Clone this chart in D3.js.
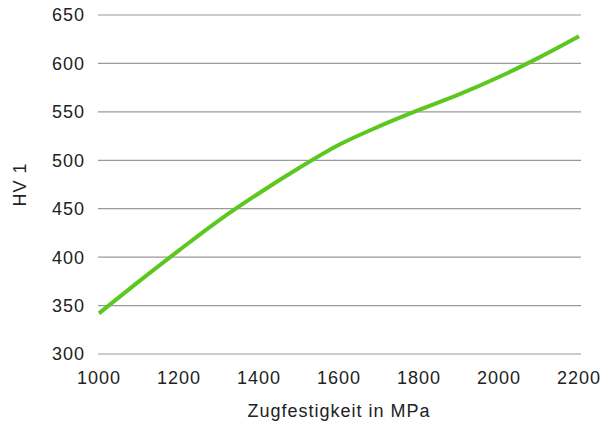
<!DOCTYPE html>
<html>
<head>
<meta charset="utf-8">
<script src="https://cdn.jsdelivr.net/npm/d3@7"></script>
<style>
  body { margin: 0; background: #fff; }
  text { font-family: "Liberation Sans", Arial, sans-serif; fill: #222; }
</style>
</head>
<body>
<script>
// Zugfestigkeit (MPa) und Härte HV 1
var zugfestigkeit = [1000, 1100, 1200, 1300, 1400, 1500, 1600, 1700, 1800, 1900, 2000, 2100, 2200];
var haerte = [342, 375, 407, 438, 466, 492, 516, 535, 552, 568, 586, 606, 628];

var xTicks = [1000, 1200, 1400, 1600, 1800, 2000, 2200];
var yTicks = [300, 350, 400, 450, 500, 550, 600, 650];

var vis = {
  width: 607,
  height: 428,
  links: 99,
  rechts: 579,
  oben: 15,
  unten: 354,
  gitterStart: 98,
  gitterEnde: 581,
  gruen: "#5cc71f"
};

var svg = d3.select("body").append("svg")
  .attr("width", vis.width)
  .attr("height", vis.height);

var x = d3.scaleLinear().domain([1000, 2200]).range([vis.links, vis.rechts]);
var y = d3.scaleLinear().domain([300, 650]).range([vis.unten, vis.oben]);

// horizontale Gitterlinien
svg.selectAll("line.gitter")
  .data(yTicks)
  .enter()
  .append("line")
  .attr("class", "gitter")
  .attr("x1", vis.gitterStart)
  .attr("x2", vis.gitterEnde)
  .attr("y1", function(d) { return y(d); })
  .attr("y2", function(d) { return y(d); })
  .attr("stroke", "#9a9a9a")
  .attr("stroke-width", 1.2);

// Y-Beschriftung
svg.selectAll("text.yLabel")
  .data(yTicks)
  .enter()
  .append("text")
  .attr("class", "yLabel")
  .attr("x", 85)
  .attr("y", function(d) { return y(d); })
  .attr("dy", "0.36em")
  .attr("text-anchor", "end")
  .attr("font-size", "18px")
  .attr("letter-spacing", "1px")
  .text(function(d) { return d; });

// X-Beschriftung
svg.selectAll("text.xLabel")
  .data(xTicks)
  .enter()
  .append("text")
  .attr("class", "xLabel")
  .attr("x", function(d) { return x(d); })
  .attr("y", 384)
  .attr("text-anchor", "middle")
  .attr("font-size", "18px")
  .attr("letter-spacing", "1px")
  .text(function(d) { return d; });

svg.append("text")
  .attr("x", (vis.links + vis.rechts) / 2)
  .attr("y", 417)
  .attr("text-anchor", "middle")
  .attr("font-size", "18px")
  .attr("letter-spacing", "1px")
  .text("Zugfestigkeit in MPa");

svg.append("text")
  .attr("transform", "translate(26," + (vis.oben + vis.unten) / 2 + ") rotate(-90)")
  .attr("text-anchor", "middle")
  .attr("font-size", "18px")
  .attr("letter-spacing", "1px")
  .text("HV 1");

// Kurve
var linie = d3.line()
  .x(function(d, i) { return x(zugfestigkeit[i]); })
  .y(function(d) { return y(d); })
  .curve(d3.curveCatmullRom);

svg.append("path")
  .datum(haerte)
  .attr("d", linie)
  .attr("fill", "none")
  .attr("stroke", vis.gruen)
  .attr("stroke-width", 4);
</script>
</body>
</html>
